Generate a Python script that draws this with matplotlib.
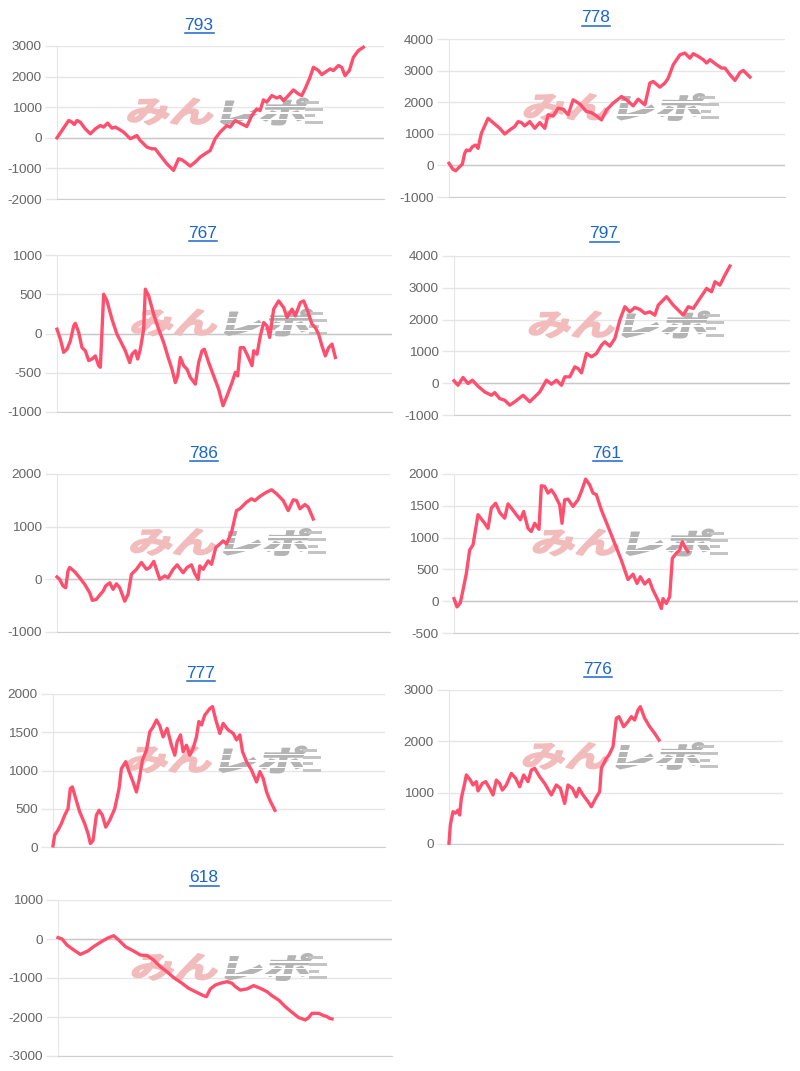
import matplotlib
matplotlib.use("Agg")
import matplotlib.pyplot as plt
from matplotlib.textpath import TextPath
from matplotlib.font_manager import FontProperties
from matplotlib.patches import PathPatch, Rectangle
from matplotlib.transforms import Affine2D, IdentityTransform
from matplotlib.lines import Line2D
import numpy as np

plt.rcParams['font.family'] = ['Liberation Sans', 'DejaVu Sans']

# ---------------- data ----------------
titles = ['793', '778', '767', '797', '786', '761', '777', '776', '618']

games_793 = [0,150,350,450,520,600,700,850,1000,1150,1300,1400,1520,1650,1750,1850,2000,2200,2300,2400,
             2500,2700,2850,2950,3100,3300,3500,3650,3750,3850,4000,4150,4300,4450,4600,4750,4900,5100,5200,5350,
             5500,5700,5850,6000,6100,6200,6300,6450,6600,6700,6800,6900,7100,7250,7350,7450,7600,7700,7850,7950,
             8050,8200,8300,8450,8550,8650,8780,8900,9050,9200]
diff_793 = [0,240,565,510,435,565,510,290,130,290,400,350,480,315,350,290,185,-30,20,75,
            -90,-305,-360,-360,-575,-850,-1065,-685,-720,-795,-925,-795,-630,-520,-415,-30,185,400,350,565,
            480,370,730,945,890,1240,1165,1380,1300,1350,1215,1325,1565,1435,1380,1600,1980,2305,2200,2065,
            2140,2250,2200,2360,2305,2030,2200,2630,2850,2960]

games_778 = [0,120,200,320,400,470,520,620,700,800,870,970,1170,1320,1520,1670,1820,1970,2070,2170,
             2270,2420,2570,2720,2870,2970,3120,3270,3420,3570,3720,3920,4120,4270,4420,4570,4720,4920,5170,5320,
             5520,5670,5870,6020,6120,6320,6470,6570,6720,6920,7070,7220,7320,7470,7620,7720,7820,8020,8170,8270,
             8420,8570,8720,8820,8920,9020]
diff_778 = [65,-125,-170,-40,40,380,485,465,590,645,540,1015,1490,1355,1175,995,1120,1230,1385,1355,
            1250,1385,1175,1355,1175,1600,1565,1810,1780,1600,2075,1945,1705,1670,1565,1440,1755,1970,2180,2075,
            1885,2095,1915,2605,2655,2475,2605,2760,3185,3500,3555,3395,3535,3450,3345,3240,3345,3185,3080,3080,
            2870,2690,2940,3005,2900,2795]

games_767 = [0,100,200,300,400,500,550,650,750,850,950,1050,1150,1250,1300,1400,1500,1650,1800,1950,
             2050,2180,2250,2350,2420,2500,2600,2650,2750,2900,3050,3200,3350,3450,3550,3620,3700,3800,3900,4000,
             4150,4250,4350,4420,4550,4700,4850,4980,5100,5250,5350,5420,5500,5600,5700,5850,5900,6000,6100,6200,
             6300,6380,6500,6650,6800,6900,7050,7150,7300,7400,7500,7650,7750,7850,7950,8050,8150,8250,8350]
diff_767 = [55,-70,-240,-200,-95,95,130,15,-180,-220,-345,-325,-285,-410,-430,500,415,180,-10,-135,
            -220,-370,-265,-220,-325,-200,55,565,480,245,55,-115,-325,-455,-625,-540,-305,-410,-455,-560,
            -645,-370,-220,-200,-370,-540,-710,-920,-795,-625,-495,-540,-180,-180,-265,-410,-220,-265,-30,140,
            95,-50,310,415,330,205,310,225,395,415,310,120,75,-10,-160,-285,-180,-135,-305]

games_797 = [0,120,270,420,550,720,920,1120,1220,1370,1520,1670,1820,2070,2270,2420,2570,2770,2920,3070,
             3220,3320,3470,3620,3720,3820,3970,4120,4270,4420,4520,4670,4820,4970,5120,5270,5420,5570,5720,5870,
             6020,6120,6370,6570,6720,6870,7020,7170,7370,7570,7720,7820,7970,8120,8270]
diff_797 = [75,-65,180,-10,95,-95,-275,-380,-295,-485,-535,-690,-585,-380,-585,-430,-275,95,-30,95,
            -65,200,200,515,460,325,935,830,935,1195,1300,1165,1405,1985,2405,2245,2380,2320,2195,2245,
            2140,2455,2720,2455,2300,2140,2405,2350,2665,2980,2875,3190,3085,3400,3685]

games_786 = [0,80,180,260,330,380,530,680,830,980,1060,1180,1280,1380,1460,1580,1680,1780,1880,2030,
             2130,2230,2380,2530,2680,2780,2900,3080,3230,3330,3480,3600,3780,3900,4030,4130,4230,4280,4380,4530,
             4630,4760,4880,4980,5080,5230,5380,5480,5680,5830,5930,6080,6280,6430,6580,6780,6930,7080,7180,7280,
             7430,7530,7680]
diff_786 = [45,0,-125,-160,160,225,145,30,-95,-255,-400,-380,-300,-225,-125,-65,-190,-85,-160,-415,
            -285,95,190,320,190,225,340,0,65,30,190,275,125,225,275,110,0,255,190,350,
            285,605,670,730,670,890,1305,1340,1465,1530,1495,1575,1655,1700,1625,1495,1305,1510,1495,1340,
            1420,1370,1145]

games_761 = [0,90,190,290,370,470,570,720,920,1020,1120,1250,1370,1520,1620,1720,1870,1990,2090,2220,
             2320,2420,2550,2620,2720,2820,2920,3020,3170,3240,3320,3420,3570,3720,3820,3950,4070,4170,4270,4420,
             4620,4820,5020,5220,5370,5490,5590,5720,5850,5970,6120,6220,6270,6370,6470,6550,6670,6770,6850,6950,
             7020]
diff_761 = [40,-90,-25,225,435,805,885,1360,1225,1145,1465,1540,1395,1305,1530,1465,1360,1280,1410,1145,
            1095,1225,1130,1815,1805,1700,1750,1675,1515,1225,1595,1605,1490,1595,1725,1920,1830,1700,1675,1435,
            1175,910,645,340,425,280,385,270,340,175,15,-115,40,-35,70,675,755,805,935,830,
            780]

games_777 = [0,50,150,250,350,450,520,580,680,800,950,1050,1120,1200,1300,1380,1480,1580,1700,1850,
             1980,2050,2180,2280,2400,2500,2580,2680,2800,2900,3000,3100,3200,3300,3420,3550,3650,3720,3820,3900,
             4000,4100,4200,4300,4370,4450,4550,4700,4780,4880,5000,5100,5250,5400,5500,5600,5680,5800,5950,6100,
             6200,6300,6400,6500,6650]
diff_777 = [15,155,220,305,415,500,765,785,635,460,305,175,45,85,415,480,415,260,350,500,
            765,1025,1115,985,850,720,875,1135,1265,1505,1570,1660,1585,1440,1550,1330,1200,1375,1465,1245,
            1330,1200,1290,1440,1640,1595,1725,1810,1835,1660,1485,1615,1530,1485,1400,1465,1245,1115,1005,850,
            985,895,720,610,480]

games_776 = [0,40,120,200,270,320,370,470,520,640,720,820,870,1000,1100,1220,1320,1420,1520,1600,
             1720,1870,2000,2120,2240,2370,2470,2570,2720,2870,3070,3220,3340,3470,3570,3700,3820,3900,4020,4170,
             4270,4400,4520,4570,4720,4800,4870,4920,5020,5100,5240,5370,5470,5570,5670,5740,5870,6020,6170,6300]
diff_776 = [15,370,630,600,660,565,890,1180,1345,1245,1150,1215,1035,1180,1215,1085,955,1245,1180,1050,
            1150,1375,1280,1115,1345,1215,1440,1475,1310,1180,955,1150,1085,790,1150,1085,920,1085,955,825,
            725,890,1020,1475,1670,1735,1830,1895,2450,2480,2285,2385,2480,2415,2610,2675,2450,2285,2155,2025]

games_618 = [0,120,270,470,670,890,1070,1270,1470,1670,1820,2020,2270,2470,2670,2870,3070,3270,3470,3720,
             3920,4120,4320,4450,4570,4720,4870,5070,5220,5320,5470,5670,5870,6070,6270,6420,6620,6820,7020,7220,
             7420,7520,7620,7820,7970,8070,8150,8220]
diff_618 = [35,0,-155,-280,-395,-310,-195,-85,15,85,-25,-195,-310,-410,-425,-540,-710,-840,-990,-1135,
            -1265,-1350,-1435,-1480,-1280,-1180,-1135,-1095,-1135,-1220,-1310,-1280,-1195,-1265,-1350,-1455,-1565,-1735,-1880,-2015,
            -2075,-2015,-1905,-1905,-1965,-1990,-2035,-2050]

games = [games_793, games_778, games_767, games_797, games_786, games_761, games_777, games_776, games_618]
diffs = [diff_793, diff_778, diff_767, diff_797, diff_786, diff_761, diff_777, diff_776, diff_618]
x_max = [9820, 10070, 10050, 10070, 9980, 10320, 9950, 10020, 10020]
y_min = [-2000, -1000, -1000, -1000, -1000, -500, 0, 0, -3000]
y_max = [3000, 4000, 1000, 4000, 2000, 2000, 2000, 3000, 1000]
y_step = [1000, 1000, 500, 1000, 1000, 500, 500, 1000, 1000]

# ---------------- layout (pixels) ----------------
W, H = 800, 1071
ax_px = [(57, 384, 46, 199), (449, 785, 39, 197),
         (57, 392, 255, 412), (454, 790, 256, 415),
         (57, 390, 474, 632), (454, 798, 474, 633),
         (53, 385, 694, 847), (449, 783, 690, 844),
         (58, 392, 900, 1056)]
title_px = [(199, 25), (596, 18), (203, 233), (604, 234), (204, 453),
            (607, 453), (201, 673), (598, 669), (204, 878)]

LINE = '#ff4f6e'
GRID = '#e6e6e6'
TITLE_C = '#1a66cc'

fig = plt.figure(figsize=(W / 100, H / 100), dpi=100)
jp = FontProperties(family='Noto Sans CJK JP', weight='bold')


def fitted_text(text, x0, x1, ytop, ybot, skew=14):
    p = TextPath((0, 0), text, size=40, prop=jp)
    e = p.get_extents()
    h = ybot - ytop
    shift = np.tan(np.radians(skew)) * h / 2
    tr = (Affine2D().translate(-e.x0, -e.y0)
          .scale((x1 - x0) / e.width, h / e.height)
          .skew_deg(skew, 0)
          .translate(x0 - shift, H - ybot))
    return tr.transform_path(p)


def watermark(ax, cx, cy):
    top, bot = cy - 13, cy + 13
    pink = PathPatch(fitted_text('みん', cx - 91, cx - 7, top, bot),
                     transform=IdentityTransform(), facecolor='#f2bcbc',
                     edgecolor='#f2bcbc', lw=1.4, joinstyle='round', zorder=1)
    gray = PathPatch(fitted_text('レポ', cx + 3, cx + 85, top, bot),
                     transform=IdentityTransform(), facecolor='#b4b4b4',
                     edgecolor='#b4b4b4', lw=1.4, joinstyle='round', zorder=1)
    ax.add_patch(pink)
    ax.add_patch(gray)
    # speed-line stripes through the grey part
    for f in (0.3, 0.55, 0.8):
        yy = H - (top + f * (bot - top))
        ax.add_patch(Rectangle((cx, yy - 0.7), 92, 1.4, transform=IdentityTransform(),
                               facecolor='white', edgecolor='none', zorder=1.2))
    for f, ln in ((0.15, 14), (0.42, 18), (0.67, 10), (0.92, 18)):
        yy = H - (top + f * (bot - top))
        ax.add_patch(Rectangle((cx + 84, yy - 1.5), ln, 3, transform=IdentityTransform(),
                               facecolor='#c4c4c4', edgecolor='none', zorder=1))


renderer = fig.canvas.get_renderer()
for i in range(9):
    l, r, t, b = ax_px[i]
    ax = fig.add_axes([l / W, 1 - b / H, (r - l) / W, (b - t) / H])
    ax.set_axisbelow(True)
    ax.plot(games[i], diffs[i], color=LINE, lw=2.4, zorder=3, clip_on=False,
            solid_joinstyle='round')
    ax.set_xlim(0, x_max[i])
    ax.set_ylim(y_min[i], y_max[i])
    ticks = np.arange(y_min[i], y_max[i] + 1, y_step[i])
    ax.set_yticks(ticks)
    ax.set_yticklabels([str(int(v)) for v in ticks])
    ax.set_xticks([])
    ax.grid(axis='y', color=GRID, lw=1, zorder=0.5)
    if y_min[i] < 0:
        ax.axhline(0, color='#c8c8c8', lw=1, zorder=0.6)
    for s in ('top', 'right'):
        ax.spines[s].set_visible(False)
    ax.spines['left'].set_color(GRID)
    ax.spines['bottom'].set_color('#cfcfcf')
    ax.spines['left'].set_zorder(0.5)
    ax.tick_params(axis='y', length=9, width=1, color=GRID, pad=2,
                   labelsize=9.7, labelcolor='#666666')
    cx = (l + r) / 2
    cy = (t + b) / 2 - 11
    watermark(ax, cx, cy)

    tx, ty = title_px[i]
    txt = fig.text(tx / W, 1 - ty / H, titles[i], ha='center', va='center',
                   fontsize=12.5, color=TITLE_C)
    bb = txt.get_window_extent(renderer)
    uy = bb.y0
    fig.add_artist(Line2D([bb.x0, bb.x1], [uy, uy], transform=IdentityTransform(),
                          color=TITLE_C, lw=1.1))

fig.savefig('out.png', dpi=100, facecolor='white')
